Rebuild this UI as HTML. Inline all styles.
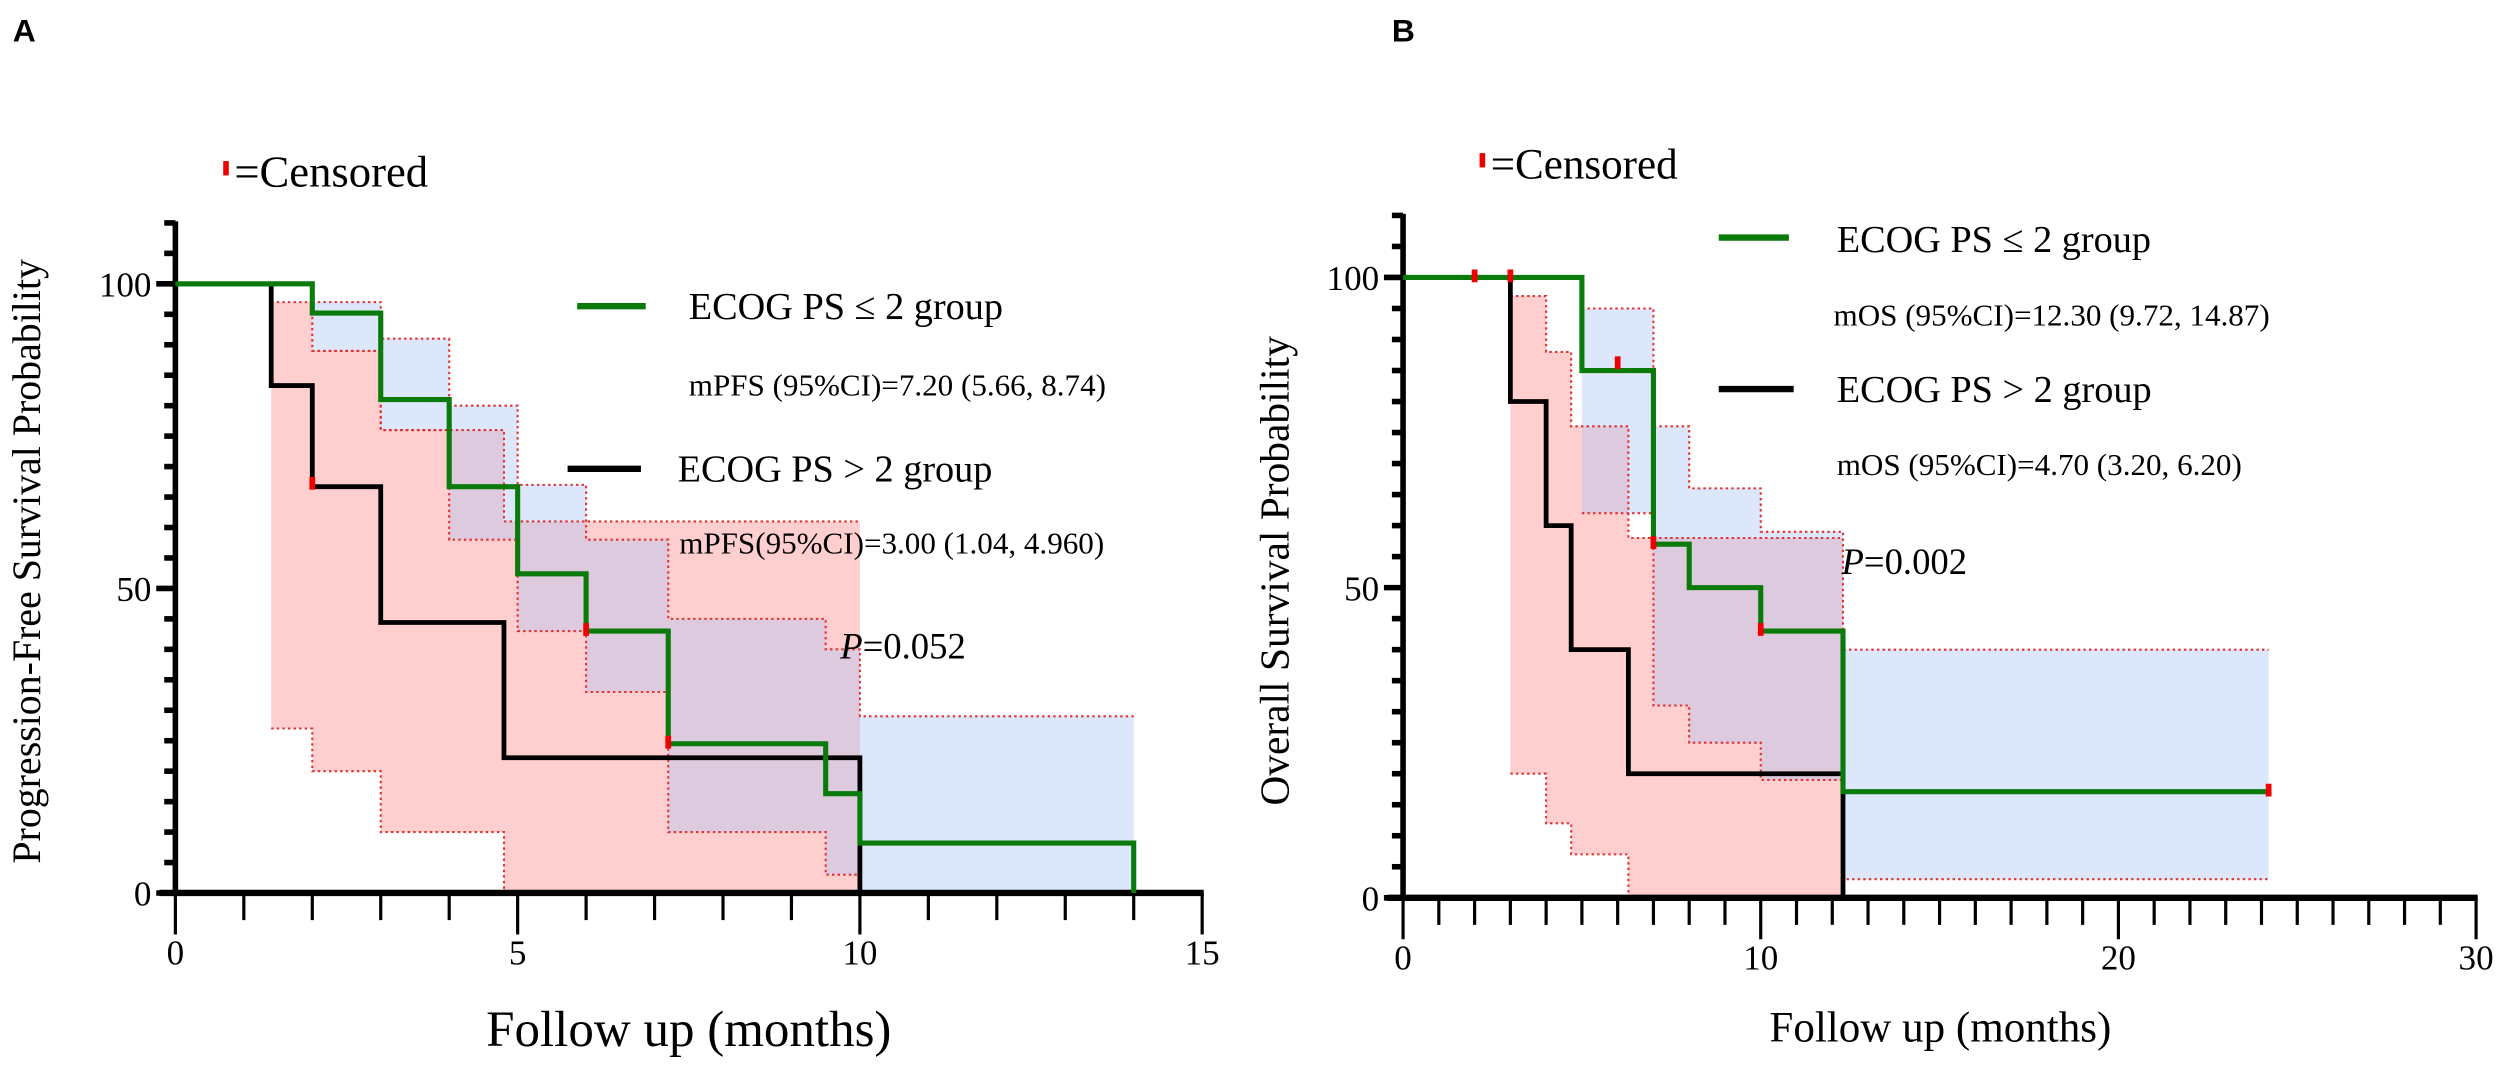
<!DOCTYPE html>
<html><head><meta charset="utf-8"><style>
html,body{margin:0;padding:0;background:#fff;}
svg{display:block;font-family:"Liberation Serif",serif;}
</style></head><body>
<svg id="fig" width="2500" height="1070" viewBox="0 0 1568 671" preserveAspectRatio="none" xmlns="http://www.w3.org/2000/svg">
<text x="8" y="26" font-family="Liberation Sans, sans-serif" font-weight="bold" font-size="20">A</text>
<text x="873" y="26" font-family="Liberation Sans, sans-serif" font-weight="bold" font-size="20">B</text>
<g id="pa"></g>
<g id="pb"></g>
<!-- panel A text -->
<rect x="140" y="101" width="3.5" height="9" fill="#e00"/>
<text x="147" y="117" font-size="28">=Censored</text>
<line x1="362" y1="192" x2="405" y2="192" stroke="#0a7a0a" stroke-width="4"/>
<text x="432" y="200" font-size="24">ECOG PS ≤ 2 group</text>
<text x="432" y="248" font-size="19.5">mPFS (95%CI)=7.20 (5.66, 8.74)</text>
<line x1="356" y1="294" x2="402" y2="294" stroke="#000" stroke-width="4"/>
<text x="425" y="302" font-size="24">ECOG PS &gt; 2 group</text>
<text x="426" y="347" font-size="19.5">mPFS(95%CI)=3.00 (1.04, 4.960)</text>
<text x="527" y="413" font-size="23"><tspan font-style="italic">P</tspan>=0.052</text>
<text transform="translate(25,352) rotate(-90)" text-anchor="middle" font-size="25">Progression-Free Survival Probability</text>
<text x="432" y="656" text-anchor="middle" font-size="32">Follow up (months)</text>
<!-- panel B text -->
<rect x="928" y="96" width="3.5" height="9" fill="#e00"/>
<text x="935" y="112" font-size="27">=Censored</text>
<line x1="1078" y1="149" x2="1122" y2="149" stroke="#0a7a0a" stroke-width="4"/>
<text x="1152" y="158" font-size="24">ECOG PS ≤ 2 group</text>
<text x="1150" y="204" font-size="19.5">mOS (95%CI)=12.30 (9.72, 14.87)</text>
<line x1="1078" y1="244" x2="1125" y2="244" stroke="#000" stroke-width="4"/>
<text x="1152" y="252" font-size="24">ECOG PS &gt; 2 group</text>
<text x="1152" y="298" font-size="19.5">mOS (95%CI)=4.70 (3.20, 6.20)</text>
<text x="1155" y="360" font-size="23"><tspan font-style="italic">P</tspan>=0.002</text>
<text transform="translate(808,358) rotate(-90)" text-anchor="middle" font-size="26">Overall Survival Probability</text>
<text x="1217" y="653" text-anchor="middle" font-size="27">Follow up (months)</text>
</svg>
<script>
// Panel A data
const aGreenT = [0, 2, 3, 4, 5, 6, 7.2, 9.5, 10, 14];
const aGreenS = [100, 95.2, 81, 66.7, 52.4, 43, 24.5, 16.3, 8.2, 0];
const aBlackT = [0, 1.4, 2, 3, 4.8, 10];
const aBlackS = [100, 83.3, 66.7, 44.4, 22.2, 0];
const aGreenCensT = [6, 7.2];
const aGreenCensS = [43, 24.5];
const aBlackCensT = [2];
const aBlackCensS = [67];
const aBlueT = [2, 3, 4, 5, 6, 7.2, 9.5, 10, 14];
const aBlueUp = [97, 91, 80, 67, 58, 45, 40, 29];
const aBlueLo = [89, 76, 58, 43, 33, 10, 3, 0];
const aPinkT = [1.4, 2, 3, 4.8, 10];
const aPinkUp = [97, 89, 76, 61];
const aPinkLo = [27, 20, 10, 0];
const aXTicks = [0, 5, 10, 15];
const aYTicks = [0, 50, 100];
// Panel B data
const bGreenT = [0, 5, 7, 8, 10, 12.3, 24.2];
const bGreenS = [100, 85, 57, 50, 43, 17.1, 17.1];
const bBlackT = [0, 3, 4, 4.7, 6.3, 12.3];
const bBlackS = [100, 80, 60, 40, 20, 0];
const bGreenCensT = [2, 3, 6, 10, 24.2];
const bGreenCensS = [100, 100, 86, 43, 17.1];
const bBlackCensT = [7];
const bBlackCensS = [57];
const bBlueT = [5, 7, 8, 10, 12.3, 24.2];
const bBlueUp = [95, 76, 66, 59, 40];
const bBlueLo = [62, 31, 25, 19, 3];
const bPinkT = [3, 4, 4.7, 6.3, 12.3];
const bPinkUp = [97, 88, 76, 58];
const bPinkLo = [20, 12, 7, 0];
const bXTicks = [0, 10, 20, 30];
const bYTicks = [0, 50, 100];

const NS = "http://www.w3.org/2000/svg";
function mk(parent, tag, attrs) {
  const e = document.createElementNS(NS, tag);
  for (const k in attrs) e.setAttribute(k, attrs[k]);
  parent.appendChild(e);
  return e;
}
function stepPath(T, S, sx, sy) {
  let d = "M" + sx(T[0]) + "," + sy(S[0]);
  for (let i = 1; i < T.length; i++) {
    d += " H" + sx(T[i]) + " V" + sy(S[i]);
  }
  return d;
}
function bandPath(T, U, L, sx, sy) {
  let d = "M" + sx(T[0]) + "," + sy(U[0]);
  for (let i = 0; i < U.length; i++) d += " H" + sx(T[i + 1]) + (i + 1 < U.length ? " V" + sy(U[i + 1]) : "");
  d += " V" + sy(L[L.length - 1]);
  for (let i = L.length - 1; i >= 0; i--) d += " H" + sx(T[i]) + (i > 0 ? " V" + sy(L[i - 1]) : "");
  return d + " Z";
}
function edge(T, V, sx, sy) {
  let d = "M" + sx(T[0]) + "," + sy(V[0]);
  for (let i = 0; i < V.length; i++) d += " H" + sx(T[i + 1]) + (i + 1 < V.length ? " V" + sy(V[i + 1]) : "");
  return d;
}
function panel(g, cfg) {
  const sx = v => cfg.x0 + (v - cfg.xmin) * (cfg.x1 - cfg.x0) / (cfg.xmax - cfg.xmin);
  const sy = v => cfg.y0 - v * (cfg.y0 - cfg.y100) / 100;
  let e;
  e = mk(g, "path", {d: bandPath(cfg.pinkT, cfg.pinkUp, cfg.pinkLo, sx, sy), fill: "rgba(255,160,160,0.5)", stroke: "none"});
  
  
  e = mk(g, "path", {d: bandPath(cfg.blueT, cfg.blueUp, cfg.blueLo, sx, sy), fill: "rgba(170,195,245,0.4)", stroke: "none"});
  
  
  [[cfg.pinkT, cfg.pinkUp], [cfg.pinkT, cfg.pinkLo], [cfg.blueT, cfg.blueUp], [cfg.blueT, cfg.blueLo]].forEach(p => {
    const el = mk(g, "path", {d: edge(p[0], p[1], sx, sy), fill: "none", stroke: "#e03030", "stroke-width": 1.3, "stroke-dasharray": "1.5,2"});
    
    
  });
  const ax = mk(g, "g", {stroke: "#000", fill: "none"});
  
  
  mk(ax, "line", {x1: cfg.x0, y1: sy(110) - 1, x2: cfg.x0, y2: cfg.y0 + 2, "stroke-width": 3.5});
  mk(ax, "line", {x1: cfg.x0 - 10, y1: cfg.y0, x2: sx(cfg.xmax) + 1, y2: cfg.y0, "stroke-width": 4});
  for (let v = 0; v <= 110; v += 5) {
    const major = cfg.yTicks.indexOf(v) >= 0;
    mk(ax, "line", {x1: cfg.x0 - (major ? 12 : 7), y1: sy(v), x2: cfg.x0, y2: sy(v), "stroke-width": 3.5});
  }
  for (let v = cfg.xmin; v <= cfg.xmax; v += 1) {
    const major = cfg.xTicks.indexOf(v) >= 0;
    mk(ax, "line", {x1: sx(v), y1: cfg.y0, x2: sx(v), y2: cfg.y0 + (major ? 26 : 17), "stroke-width": 2});
  }
  cfg.xTicks.forEach(v => {
    const t = mk(g, "text", {x: sx(v), y: cfg.y0 + 45, "text-anchor": "middle", "font-size": 22});
    t.textContent = v;
    
    
  });
  cfg.yTicks.forEach(v => {
    const t = mk(g, "text", {x: cfg.x0 - 15, y: sy(v) + 8, "text-anchor": "end", "font-size": 22});
    t.textContent = v;
    
    
  });
  e = mk(g, "path", {d: stepPath(cfg.blackT, cfg.blackS, sx, sy), fill: "none", stroke: "#000", "stroke-width": 3});
  
  
  e = mk(g, "path", {d: stepPath(cfg.greenT, cfg.greenS, sx, sy), fill: "none", stroke: "#0a7a0a", "stroke-width": 3.2});
  
  
  const cens = cfg.gcT.map((t, i) => [t, cfg.gcS[i]]).concat(cfg.bcT.map((t, i) => [t, cfg.bcS[i]]));
  cens.forEach(c => {
    const r = mk(g, "rect", {x: sx(c[0]) - 1.8, y: sy(c[1]) - 5, width: 3.6, height: 8, fill: "#e00"});
    
    
  });
}
panel(document.getElementById("pa"), {x0: 110, x1: 754, xmin: 0, xmax: 15, y0: 560, y100: 178,
  greenT: aGreenT, greenS: aGreenS, blackT: aBlackT, blackS: aBlackS,
  gcT: aGreenCensT, gcS: aGreenCensS, bcT: aBlackCensT, bcS: aBlackCensS,
  blueT: aBlueT, blueUp: aBlueUp, blueLo: aBlueLo, pinkT: aPinkT, pinkUp: aPinkUp, pinkLo: aPinkLo,
  xTicks: aXTicks, yTicks: aYTicks});
panel(document.getElementById("pb"), {x0: 880, x1: 1553, xmin: 0, xmax: 30, y0: 563, y100: 174,
  greenT: bGreenT, greenS: bGreenS, blackT: bBlackT, blackS: bBlackS,
  gcT: bGreenCensT, gcS: bGreenCensS, bcT: bBlackCensT, bcS: bBlackCensS,
  blueT: bBlueT, blueUp: bBlueUp, blueLo: bBlueLo, pinkT: bPinkT, pinkUp: bPinkUp, pinkLo: bPinkLo,
  xTicks: bXTicks, yTicks: bYTicks});
</script>
</body></html>
